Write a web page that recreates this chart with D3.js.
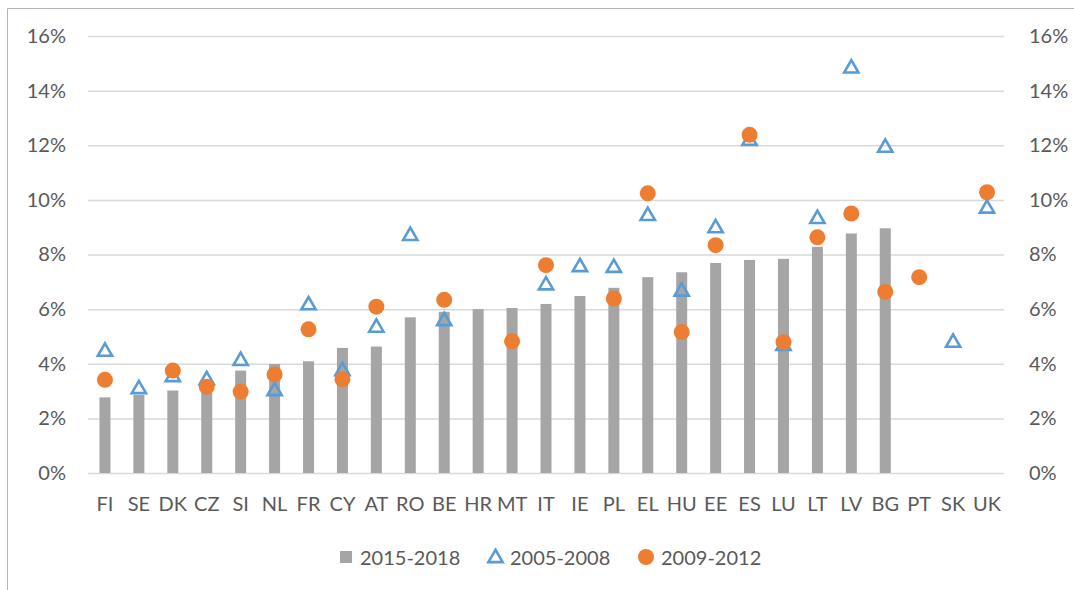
<!DOCTYPE html>
<html>
<head>
<meta charset="utf-8">
<script src="https://cdn.jsdelivr.net/npm/d3@7"></script>
<style>
  body { margin: 0; background: #fff; }
  text { font-family: Lato, "Open Sans", sans-serif; fill: #595959; }
</style>
</head>
<body>
<svg id="chart"></svg>
<script>
const outerWidth = 1074;
const outerHeight = 590;

const countries = ["FI","SE","DK","CZ","SI","NL","FR","CY","AT","RO","BE","HR","MT","IT","IE","PL","EL","HU","EE","ES","LU","LT","LV","BG","PT","SK","UK"];
// 2015-2018 (bars)
const v2015 = [2.77,2.86,3.02,3.30,3.75,3.99,4.09,4.58,4.63,5.70,5.90,6.00,6.04,6.19,6.48,6.78,7.17,7.35,7.69,7.80,7.84,8.28,8.77,8.96,null,null,null];
// 2005-2008 (triangles)
const v2005 = [4.48,3.11,3.55,3.44,4.14,3.04,6.18,3.77,5.36,8.72,5.60,null,null,6.91,7.58,7.55,9.45,6.68,9.00,12.20,4.69,9.34,14.85,11.95,null,4.81,9.72];
// 2009-2012 (circles)
const v2009 = [3.41,null,3.75,3.16,2.98,3.61,5.26,3.43,6.09,null,6.34,null,4.82,7.61,null,6.39,10.24,5.16,8.34,12.38,4.79,8.63,9.50,6.63,7.17,null,10.28];
const yTicks = [0,0.02,0.04,0.06,0.08,0.10,0.12,0.14,0.16];

const plot = {left: 88, right: 1004, top: 36, bottom: 473};
const fontSize = "20px";

const svg = d3.select("#chart")
  .attr("width", outerWidth)
  .attr("height", outerHeight);

// chart frame (only left and top edges are visible)
svg.append("path")
  .attr("d", "M7.5,600V8.5H1080")
  .attr("fill", "none")
  .attr("stroke", "#b4b4b4")
  .attr("stroke-width", 1);

var x = d3.scaleBand().domain(countries).range([plot.left, plot.right]).padding(0);
var y = d3.scaleLinear().domain([0, 0.16]).range([plot.bottom, plot.top]);

// gridlines
svg.append("g")
  .attr("transform", "translate(" + plot.left + ",0)")
  .call(d3.axisLeft(y).tickValues(yTicks).tickSize(-(plot.right - plot.left)).tickFormat(""))
  .call(g => g.select(".domain").remove())
  .call(g => g.selectAll("line").attr("stroke", "#d9d9d9").attr("stroke-width", 1.5));

// left axis labels
svg.append("g")
  .attr("transform", "translate(" + plot.left + ",0)")
  .call(d3.axisLeft(y).tickValues(yTicks).tickSize(0).tickPadding(22).tickFormat(d3.format(".0%")))
  .call(g => g.select(".domain").remove())
  .call(g => g.selectAll("text").style("font-size", fontSize).attr("fill", "#595959").attr("font-family", "Lato, sans-serif"));

// right axis labels
svg.append("g")
  .attr("transform", "translate(" + plot.right + ",0)")
  .call(d3.axisRight(y).tickValues(yTicks).tickSize(0).tickPadding(25).tickFormat(d3.format(".0%")))
  .call(g => g.select(".domain").remove())
  .call(g => g.selectAll("text").style("font-size", fontSize).attr("fill", "#595959").attr("font-family", "Lato, sans-serif"));

// x axis labels
svg.append("g")
  .attr("transform", "translate(0," + plot.bottom + ")")
  .call(d3.axisBottom(x).tickSize(0).tickPadding(24))
  .call(g => g.select(".domain").remove())
  .call(g => g.selectAll("text").style("font-size", fontSize).attr("fill", "#595959").attr("font-family", "Lato, sans-serif"));

var barW = 11;
var cx = d => x(d) + x.bandwidth() / 2;

// bars
svg.append("g").selectAll("rect")
  .data(countries.map((c, i) => ({c: c, v: v2015[i]})).filter(d => d.v != null))
  .enter()
  .append("rect")
  .attr("x", d => cx(d.c) - barW / 2)
  .attr("width", barW)
  .attr("y", d => y(d.v / 100))
  .attr("height", d => plot.bottom - y(d.v / 100))
  .style("fill", "#a5a5a5");

// triangles
var tri = d3.symbol().type(d3.symbolTriangle).size(88);
svg.append("g").selectAll("path")
  .data(countries.map((c, i) => ({c: c, v: v2005[i]})).filter(d => d.v != null))
  .enter()
  .append("path")
  .attr("d", tri)
  .attr("transform", d => "translate(" + cx(d.c) + "," + (y(d.v / 100) + 1) + ")")
  .style("fill", "none").style("stroke", "#5b9bd5").style("stroke-width", 2.6);

// circles
svg.append("g").selectAll("circle")
  .data(countries.map((c, i) => ({c: c, v: v2009[i]})).filter(d => d.v != null))
  .enter()
  .append("circle")
  .attr("cx", d => cx(d.c))
  .attr("cy", d => y(d.v / 100))
  .attr("r", 8)
  .style("fill", "#ed7d31");

// legend
var legend = svg.append("g").attr("font-size", fontSize);
legend.append("rect").attr("x", 340).attr("y", 551).attr("width", 12).attr("height", 12).style("fill", "#a5a5a5");
legend.append("text").attr("x", 360).attr("y", 565).text("2015-2018");
legend.append("path").attr("d", tri).attr("transform", "translate(495.5,558)")
  .style("fill", "none").style("stroke", "#5b9bd5").style("stroke-width", 2.6);
legend.append("text").attr("x", 510).attr("y", 565).text("2005-2008");
legend.append("circle").attr("cx", 646).attr("cy", 557).attr("r", 8).style("fill", "#ed7d31");
legend.append("text").attr("x", 661).attr("y", 565).text("2009-2012");
</script>
</body>
</html>
